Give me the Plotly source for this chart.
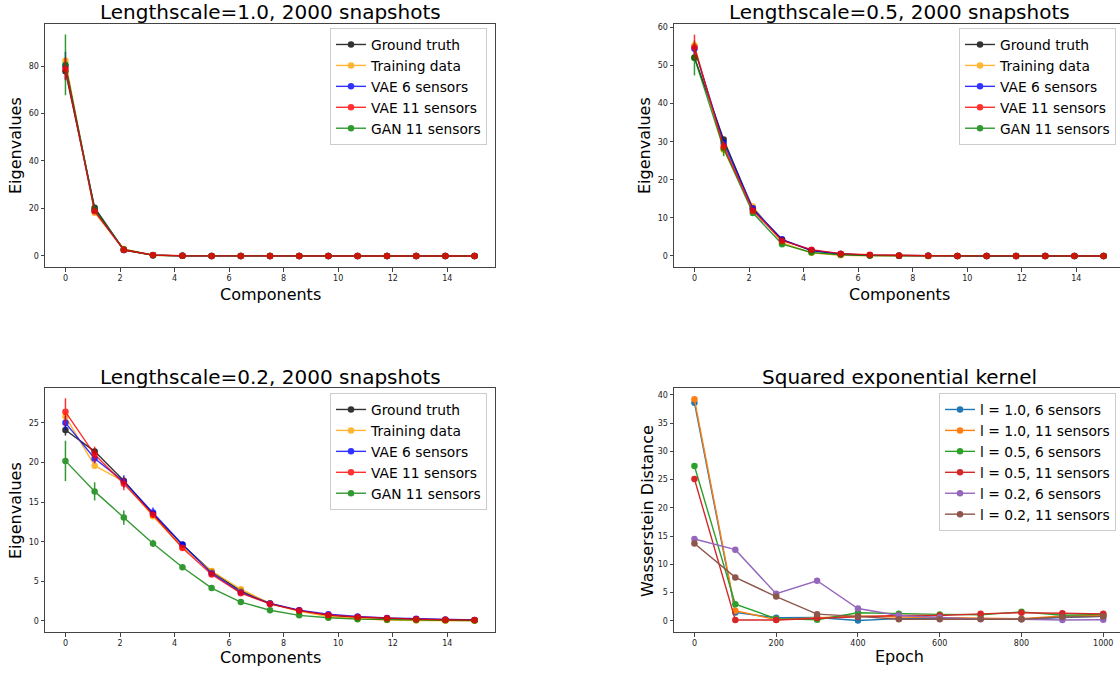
import plotly.graph_objects as go

# ---------------- data ----------------
components = [0, 1.07, 2.14, 3.21, 4.29, 5.36, 6.43, 7.5, 8.57, 9.64, 10.71, 11.79, 12.86, 13.93, 15.0]

# Lengthscale = 1.0
gt_1 = [77.8, 20.3, 2.5, 0.35, 0.05, 0.01, 0, 0, 0, 0, 0, 0, 0, 0, 0]
tr_1 = [82.2, 18.2, 3.0, 0.3, 0.05, 0.01, 0, 0, 0, 0, 0, 0, 0, 0, 0]
v6_1 = [80.0, 19.2, 2.6, 0.35, 0.05, 0.01, 0, 0, 0, 0, 0, 0, 0, 0, 0]
v11_1 = [78.9, 18.8, 2.5, 0.4, 0.08, 0.02, 0.01, 0, 0, 0, 0, 0, 0, 0, 0]
gan_1 = [80.5, 19.6, 2.7, 0.3, 0.05, 0.01, 0, 0, 0, 0, 0, 0, 0, 0, 0]
gt_1_err = [0.8, 0.3, 0.1, 0, 0, 0, 0, 0, 0, 0, 0, 0, 0, 0, 0]
tr_1_err = [1.5, 0.5, 0.1, 0, 0, 0, 0, 0, 0, 0, 0, 0, 0, 0, 0]
v6_1_err = [6.0, 1.0, 0.2, 0, 0, 0, 0, 0, 0, 0, 0, 0, 0, 0, 0]
v11_1_err = [4.5, 1.0, 0.2, 0, 0, 0, 0, 0, 0, 0, 0, 0, 0, 0, 0]
gan_1_err = [12.8, 1.2, 0.3, 0, 0, 0, 0, 0, 0, 0, 0, 0, 0, 0, 0]

# Lengthscale = 0.5
gt_2 = [52.1, 30.6, 12.3, 4.3, 1.4, 0.5, 0.2, 0.08, 0.03, 0.01, 0, 0, 0, 0, 0]
tr_2 = [55.3, 27.9, 13.0, 3.5, 0.8, 0.2, 0.05, 0.02, 0.01, 0, 0, 0, 0, 0, 0]
v6_2 = [54.4, 29.7, 12.5, 4.3, 1.5, 0.5, 0.2, 0.08, 0.03, 0.01, 0, 0, 0, 0, 0]
v11_2 = [54.8, 28.8, 11.9, 4.0, 1.65, 0.6, 0.3, 0.12, 0.05, 0.02, 0.01, 0, 0, 0, 0]
gan_2 = [52.0, 28.2, 11.3, 3.1, 0.9, 0.3, 0.1, 0.03, 0.01, 0, 0, 0, 0, 0, 0]
gt_2_err = [0.8, 0.5, 0.2, 0.1, 0, 0, 0, 0, 0, 0, 0, 0, 0, 0, 0]
tr_2_err = [1.0, 1.2, 0.3, 0.1, 0, 0, 0, 0, 0, 0, 0, 0, 0, 0, 0]
v6_2_err = [1.5, 0.8, 0.3, 0.1, 0, 0, 0, 0, 0, 0, 0, 0, 0, 0, 0]
v11_2_err = [3.3, 1.0, 0.4, 0.1, 0, 0, 0, 0, 0, 0, 0, 0, 0, 0, 0]
gan_2_err = [4.6, 2.0, 0.5, 0.2, 0, 0, 0, 0, 0, 0, 0, 0, 0, 0, 0]

# Lengthscale = 0.2
gt_3 = [24.1, 21.4, 17.7, 13.5, 9.6, 6.2, 3.8, 2.2, 1.3, 0.7, 0.45, 0.3, 0.2, 0.12, 0.08]
tr_3 = [25.8, 19.6, 17.6, 13.2, 9.3, 6.3, 4.0, 2.2, 1.2, 0.55, 0.3, 0.12, 0.05, 0.02, 0.01]
v6_3 = [25.0, 20.5, 17.6, 13.7, 9.66, 6.0, 3.6, 2.2, 1.35, 0.85, 0.55, 0.38, 0.27, 0.18, 0.12]
v11_3 = [26.4, 21.0, 17.3, 13.4, 9.2, 5.85, 3.5, 2.15, 1.3, 0.75, 0.5, 0.33, 0.22, 0.15, 0.1]
gan_3 = [20.2, 16.35, 13.05, 9.78, 6.77, 4.15, 2.38, 1.35, 0.7, 0.4, 0.22, 0.15, 0.1, 0.07, 0.05]
gt_3_err = [0.7, 0.4, 0.2, 0.1, 0.1, 0, 0, 0, 0, 0, 0, 0, 0, 0, 0]
tr_3_err = [0.5, 0.4, 0.2, 0.1, 0.1, 0, 0, 0, 0, 0, 0, 0, 0, 0, 0]
v6_3_err = [0.9, 0.6, 0.8, 0.6, 0.3, 0.1, 0, 0, 0, 0, 0, 0, 0, 0, 0]
v11_3_err = [1.7, 1.0, 0.8, 0.4, 0.3, 0.1, 0, 0, 0, 0, 0, 0, 0, 0, 0]
gan_3_err = [2.55, 1.15, 0.9, 0.45, 0.2, 0.1, 0, 0, 0, 0, 0, 0, 0, 0, 0]

# Wasserstein distance vs epoch
epochs = [0, 100, 200, 300, 400, 500, 600, 700, 800, 900, 1000]
w_10_6 = [38.6, 1.5, 0.55, 0.6, 0.08, 0.4, 0.5, 0.45, 0.35, 0.6, 0.8]
w_10_11 = [39.2, 1.8, 0.2, 0.55, 0.9, 0.7, 0.6, 0.6, 0.4, 0.9, 1.0]
w_05_6 = [27.4, 2.95, 0.4, 0.2, 1.45, 1.25, 1.15, 1.1, 1.6, 1.0, 1.15]
w_05_11 = [25.1, 0.15, 0.15, 0.5, 0.75, 0.95, 0.95, 1.25, 1.45, 1.35, 1.25]
w_02_6 = [14.5, 12.6, 4.8, 7.1, 2.2, 0.95, 0.6, 0.3, 0.3, 0.15, 0.2]
w_02_11 = [13.7, 7.7, 4.3, 1.2, 0.8, 0.3, 0.3, 0.35, 0.3, 0.7, 0.8]

eig_names = ["Ground truth", "Training data", "VAE 6 sensors", "VAE 11 sensors", "GAN 11 sensors"]
eig_colors = ["#000000", "#FFA500", "#0000FF", "#FF0000", "#008000"]
w_names = ["l = 1.0, 6 sensors", "l = 1.0, 11 sensors", "l = 0.5, 6 sensors",
           "l = 0.5, 11 sensors", "l = 0.2, 6 sensors", "l = 0.2, 11 sensors"]
w_colors = ["#1f77b4", "#ff7f0e", "#2ca02c", "#d62728", "#9467bd", "#8c564b"]

# ---------------- layout geometry ----------------
W, H = 1120, 673
FONT = "DejaVu Sans"

def px_x(p):
    return p / W

def px_y(p):
    return 1 - p / H

panels = {
    1: dict(x0=45, x1=495, y0=24, y1=267),
    2: dict(x0=674, x1=1120, y0=24, y1=267),
    3: dict(x0=45, x1=495, y0=388, y1=632),
    4: dict(x0=674, x1=1120, y0=388, y1=632),
}

fig = go.Figure()

def add_eig(panel, ys, errs):
    ax = "" if panel == 1 else str(panel)
    order = [0, 1, 2, 4, 3]  # draw GAN before VAE 11 (VAE 11 on top)
    for i in order:
        fig.add_trace(go.Scatter(
            x=components, y=ys[i],
            mode="lines+markers",
            name=eig_names[i],
            line=dict(color=eig_colors[i], width=1.4),
            marker=dict(color=eig_colors[i], size=6.5),
            opacity=0.8,
            error_y=dict(type="data", array=errs[i], visible=True,
                         color=eig_colors[i], thickness=1.5, width=0),
            xaxis="x" + ax, yaxis="y" + ax,
            legend="legend" + ax,
            legendrank=i + 1,
        ))

add_eig(1, [gt_1, tr_1, v6_1, v11_1, gan_1], [gt_1_err, tr_1_err, v6_1_err, v11_1_err, gan_1_err])
add_eig(2, [gt_2, tr_2, v6_2, v11_2, gan_2], [gt_2_err, tr_2_err, v6_2_err, v11_2_err, gan_2_err])
add_eig(3, [gt_3, tr_3, v6_3, v11_3, gan_3], [gt_3_err, tr_3_err, v6_3_err, v11_3_err, gan_3_err])

w_series = [w_10_6, w_10_11, w_05_6, w_05_11, w_02_6, w_02_11]
for i, ys in enumerate(w_series):
    fig.add_trace(go.Scatter(
        x=epochs, y=ys, mode="lines+markers", name=w_names[i],
        line=dict(color=w_colors[i], width=1.4),
        marker=dict(color=w_colors[i], size=6.5),
        xaxis="x4", yaxis="y4", legend="legend4",
    ))

axis_common = dict(
    showline=True, linecolor="#444444", linewidth=1,
    ticks="outside", ticklen=3.5, tickwidth=0.8, tickcolor="#444444",
    tickfont=dict(family=FONT, size=8, color="#222222"),
    showgrid=False, zeroline=False,
)

ranges = {
    1: dict(x=[-0.75, 15.75], y=[-4.65, 97.7], xdt=2, ydt=20),
    2: dict(x=[-0.75, 15.6], y=[-2.9, 60.9], xdt=2, ydt=10),
    3: dict(x=[-0.75, 15.75], y=[-1.4, 29.4], xdt=2, ydt=5),
    4: dict(x=[-50, 1041], y=[-1.96, 41.2], xdt=200, ydt=5),
}

layout = dict(
    width=W, height=H,
    margin=dict(l=0, r=0, t=0, b=0),
    paper_bgcolor="white", plot_bgcolor="white",
    font=dict(family=FONT, color="black"),
    showlegend=True,
)

for p, g in panels.items():
    ax = "" if p == 1 else str(p)
    right = p in (2, 4)
    layout["xaxis" + ax] = dict(
        axis_common, domain=[px_x(g["x0"]), px_x(g["x1"])],
        range=ranges[p]["x"], dtick=ranges[p]["xdt"], tick0=0,
        mirror=True, anchor="y" + ax,
    )
    layout["yaxis" + ax] = dict(
        axis_common, domain=[px_y(g["y1"]), px_y(g["y0"])],
        range=ranges[p]["y"], dtick=ranges[p]["ydt"], tick0=0,
        mirror=(not right), anchor="x" + ax,
    )

legend_common = dict(
    bgcolor="rgba(255,255,255,0.8)", bordercolor="#cccccc", borderwidth=1,
    font=dict(family=FONT, size=13.8, color="black"),
    xanchor="right", yanchor="top", tracegroupgap=0,
)
layout["legend"] = dict(legend_common, x=px_x(487), y=px_y(28))
layout["legend2"] = dict(legend_common, x=px_x(1116), y=px_y(28))
layout["legend3"] = dict(legend_common, x=px_x(487), y=px_y(393))
layout["legend4"] = dict(legend_common, x=px_x(1116), y=px_y(393))

fig.update_layout(**layout)

titles = [
    ("Lengthscale=1.0, 2000 snapshots", 270, 12),
    ("Lengthscale=0.5, 2000 snapshots", 899, 12),
    ("Lengthscale=0.2, 2000 snapshots", 270, 377),
    ("Squared exponential kernel", 899, 377),
]
for text, cx, cy in titles:
    fig.add_annotation(text=text, x=px_x(cx), y=px_y(cy), xref="paper", yref="paper",
                       xanchor="center", yanchor="middle", showarrow=False,
                       font=dict(family=FONT, size=20, color="black"))

xtitles = [("Components", 270, 294), ("Components", 899, 294),
           ("Components", 270, 657), ("Epoch", 899, 656)]
for text, cx, cy in xtitles:
    fig.add_annotation(text=text, x=px_x(cx), y=px_y(cy), xref="paper", yref="paper",
                       xanchor="center", yanchor="middle", showarrow=False,
                       font=dict(family=FONT, size=16, color="black"))

ytitles = [("Eigenvalues", 15, 146), ("Eigenvalues", 644, 146),
           ("Eigenvalues", 15, 511), ("Wasserstein Distance", 647, 511)]
for text, cx, cy in ytitles:
    fig.add_annotation(text=text, x=px_x(cx), y=px_y(cy), xref="paper", yref="paper",
                       xanchor="center", yanchor="middle", showarrow=False, textangle=-90,
                       font=dict(family=FONT, size=16, color="black"))

fig.write_html("out.html")
